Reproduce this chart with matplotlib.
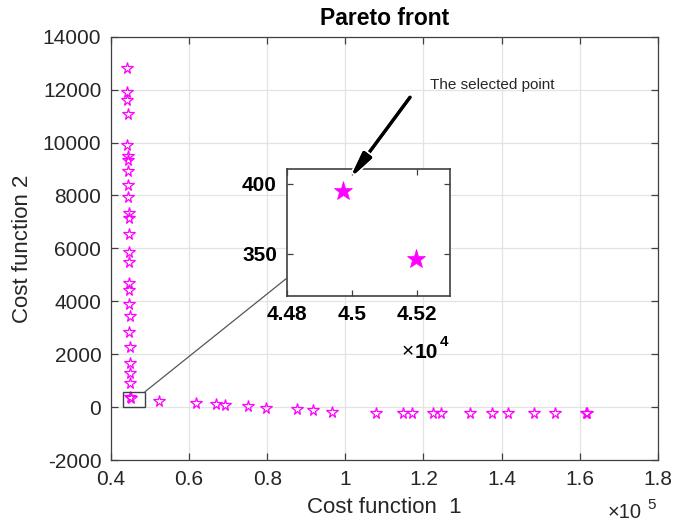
import matplotlib
matplotlib.use("Agg")
import matplotlib.pyplot as plt
from matplotlib.patches import Rectangle, ConnectionPatch, FancyArrowPatch
import matplotlib.patheffects as pe

plt.rcParams['font.family'] = ['Liberation Sans', 'DejaVu Sans']

# ---------------- data ----------------
# Pareto front points (cost function 1, cost function 2)
cost1 = [44010, 44180, 44180, 44270, 44180, 44270, 44270, 44440, 44440, 44440,
         44530, 44530, 44530, 44610, 44610, 44610, 44610, 44690, 44780, 44690,
         44780, 44870, 44870, 44950, 44972, 45197,
         52300, 61800, 66900, 69300, 75100, 79700, 87700, 91700, 96700,
         107800, 114700, 117200, 122400, 124400, 131900, 137500, 141700,
         148200, 153700, 161600, 161800]
cost2 = [12803, 11921, 11606, 11077, 9905, 9490, 9339, 8935, 8394, 7953,
         7348, 7134, 6542, 5874, 5496, 4678, 4425, 3896, 3443, 2851,
         2259, 1679, 1276, 898, 395, 346,
         230, 143, 105, 80, 42, -22, -72, -110, -173,
         -210, -212, -212, -212, -212, -215, -215, -215,
         -215, -215, -215, -220]

# zoomed (inset) view: the two points near the knee
zoom_c1 = [44972, 45197]
zoom_c2 = [395, 346]

# tick values and labels
xticks = [40000, 60000, 80000, 100000, 120000, 140000, 160000, 180000]
xticklabels = ['0.4', '0.6', '0.8', '1', '1.2', '1.4', '1.6', '1.8']
yticks = [-2000, 0, 2000, 4000, 6000, 8000, 10000, 12000, 14000]
yticklabels = ['-2000', '0', '2000', '4000', '6000', '8000', '10000', '12000', '14000']
in_xticks = [44800, 45000, 45200]
in_xticklabels = ['4.48', '4.5', '4.52']
in_yticks = [350, 400]
in_yticklabels = ['350', '400']

# --------------- figure ---------------
W, H = 686, 523
fig = plt.figure(figsize=(W / 100, H / 100), dpi=100)

def px_axes(l, t, r, b):
    return [l / W, 1 - b / H, (r - l) / W, (b - t) / H]

ax = fig.add_axes(px_axes(111, 36.7, 657.7, 460))
dark = '#262626'
edge = '#404040'
mag = '#ff00ff'

ax.plot(cost1, cost2, linestyle='none', marker='*', ms=8.5, mfc='none',
        mec=mag, mew=0.9, zorder=3)
ax.set_xlim(40000, 180000)
ax.set_ylim(-2000, 14000)
ax.set_xticks(xticks)
ax.set_xticklabels(xticklabels)
ax.set_yticks(yticks)
ax.set_yticklabels(yticklabels)
ax.grid(True, color='#e3e3e3', lw=0.9)
ax.set_axisbelow(True)
ax.tick_params(direction='in', length=5, width=0.9, color=edge, labelsize=15,
               labelcolor=dark, top=True, right=True, pad=7)
for s in ax.spines.values():
    s.set_color(edge)
    s.set_linewidth(0.9)

ax.set_xlabel('Cost function  1', fontsize=16, color=dark)
ax.xaxis.set_label_coords(0.5, (460 - 507.7) / 423.3)
ax.xaxis.label.set_va('center')
ax.set_ylabel('Cost function 2', fontsize=16, color=dark)
ax.yaxis.set_label_coords((23 - 111) / 546.7, 0.5)
ax.yaxis.label.set_va('center')
ax.set_title('Pareto front', fontsize=16.5, fontweight='bold', color='black',
             y=(460 - 18) / 423.3, va='center', pad=0)

# x10^5 multiplier
fig.text(608 / W, 1 - 513 / H, '×10', fontsize=14.5, color=dark, ha='left', va='center')
fig.text(647 / W, 1 - 505 / H, '5', fontsize=11, color=dark, ha='left', va='center')

# small rectangle marking zoom region
ax.add_patch(Rectangle((43000, 0), 5700, 580, fill=False, ec=edge, lw=1, zorder=4))

# ---------------- inset ----------------
ax_in = fig.add_axes(px_axes(286.7, 169.3, 450, 295.7))
ax_in.plot(zoom_c1, zoom_c2, linestyle='none', marker='*', ms=14, mfc=mag,
           mec=mag, mew=0.5)
ax_in.set_xlim(44800, 45303)
ax_in.set_ylim(320, 410.5)
ax_in.set_xticks(in_xticks)
ax_in.set_xticklabels(in_xticklabels)
ax_in.set_yticks(in_yticks)
ax_in.set_yticklabels(in_yticklabels)
ax_in.tick_params(direction='in', length=4, width=0.9, color=edge, labelsize=15,
                  labelcolor='black', top=True, right=True, pad=7)
for lab in ax_in.get_xticklabels() + ax_in.get_yticklabels():
    lab.set_fontweight('bold')
for s in ax_in.spines.values():
    s.set_color(edge)
    s.set_linewidth(1.2)

fig.text(402 / W, 1 - 352 / H, '×', fontsize=15, color='black', ha='left', va='center')
fig.text(415 / W, 1 - 352 / H, '10', fontsize=15, fontweight='bold', color='black',
         ha='left', va='center')
fig.text(440 / W, 1 - 342.5 / H, '4', fontsize=11, fontweight='bold', color='black',
         ha='left', va='center')

# connector line from rectangle to inset
con = ConnectionPatch(xyA=(48700, 580), coordsA=ax.transData,
                      xyB=(0, 0.138), coordsB=ax_in.transAxes,
                      color='#555555', lw=0.9, zorder=2)
fig.add_artist(con)

# arrow + annotation text
arr = FancyArrowPatch(posA=(410 / W, 1 - 97.3 / H), posB=(350 / W, 1 - 178.3 / H),
                      transform=fig.transFigure,
                      arrowstyle='-|>,head_length=1.5,head_width=0.3',
                      mutation_scale=10, lw=2.3, color='black',
                      shrinkA=0, shrinkB=0, zorder=6)
arr.set_path_effects([pe.withStroke(linewidth=5, foreground='white'), pe.Normal()])
fig.add_artist(arr)
fig.text(430 / W, 1 - 85 / H, 'The selected point', fontsize=11, color=dark,
         ha='left', va='center')

fig.savefig('out.png', dpi=100)
